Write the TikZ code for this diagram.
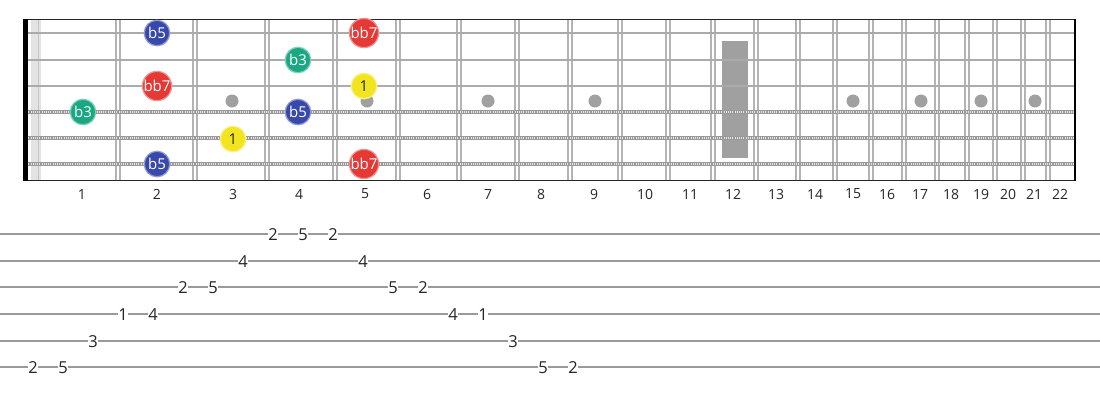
\documentclass[tikz,border=0pt]{standalone}
\usepackage{fontspec}
\setmainfont{Open Sans}
\definecolor{fretgray}{HTML}{B4B4B4}
\definecolor{strgray}{HTML}{ABABAB}
\definecolor{dotgray}{HTML}{A0A0A0}
\definecolor{tabgray}{HTML}{9A9A9A}
\definecolor{nblue}{HTML}{3949AB}
\definecolor{nred}{HTML}{E53935}
\definecolor{ngreen}{HTML}{1AA883}
\definecolor{nyellow}{HTML}{F2E520}
\begin{document}
\begin{tikzpicture}[x=1pt,y=-1pt,
  fretline/.style={draw=fretgray,line width=1.3pt},
  plainstring/.style={draw=strgray,line width=2pt},
  woundstring/.style={draw=gray!80,line width=3.8pt},
  woundtex/.style={draw=white!80!gray,line width=1.4pt,dash pattern=on 1pt off 1.2pt},
  inlay/.style={circle,fill=dotgray,minimum size=13pt,inner sep=0pt},
  note/.style={circle,minimum size=25.5pt,inner sep=0pt,line width=1.2pt,
     fill=#1,draw=#1!55!white,text=white,font=\fontsize{15}{15}\selectfont},
  rootnote/.style={note=nyellow,text=black!85},
  fretnum/.style={font=\fontsize{14}{14}\selectfont,text=black!85},
  tabline/.style={draw=tabgray,line width=1.4pt},
  tabnum/.style={fill=white,inner sep=0.3pt,font=\fontsize{16.5}{16.5}\selectfont,text=black!85}
]
\useasboundingbox (0,0) rectangle (1100,400);
\fill[white] (0,0) rectangle (1100,400);
% nut band
\fill[gray!22] (31,19) rectangle (41,181);
\draw[gray!45,line width=1pt] (38,19) -- (38,181);
% frets
\foreach \x in {118,195,267,335,398,459,517,570,620,668,713,756,798,835,871,904,937,967,995,1023,1048}{
  \draw[fretline] (\x-2,19) -- (\x-2,181);
  \draw[fretline] (\x+2,19) -- (\x+2,181);
}
% inlays
\foreach \x [count=\i] in {232,367,488,595,853,921,981,1035}
  \node[inlay] (dot\i) at (\x,101) {};
\fill[dotgray] (722,41) rectangle (748,158);
% strings
\foreach \y [count=\i] in {33,60,86}{
  \coordinate (sL\i) at (24,\y); \coordinate (sR\i) at (1075,\y);
  \draw[plainstring] (sL\i) -- (sR\i);
}
\foreach \y [count=\i from 4] in {112,138,164}{
  \coordinate (sL\i) at (24,\y); \coordinate (sR\i) at (1075,\y);
  \draw[woundstring] (sL\i) -- (sR\i);
  \draw[woundtex] (sL\i) -- (sR\i);
}
% borders
\draw[black!85,line width=1.3pt] (24,19.5) -- (1075,19.5);
\draw[black!85,line width=1.3pt] (24,180.5) -- (1075,180.5);
\draw[black,line width=1.6pt] (1075,19) -- (1075,181);
\fill[black] (23,19) rectangle (28,181);
% fret numbers
\foreach \x [count=\i] in {82,157,233,299,365,427,488,541,594,645,690,733,776,815,853,887,920,951,981,1008,1034,1060}
  \node[fretnum] (fn\i) at (\x,194) {\i};
% notes
\node[note=nblue] (n1) at (157,33) {b5};
\node[note=nred] (n2) at (364,33) {bb7};
\node[note=ngreen] (n3) at (298,60) {b3};
\node[note=nred] (n4) at (157,86) {bb7};
\node[rootnote] (n5) at (364,86) {1};
\node[note=ngreen] (n6) at (83,112) {b3};
\node[note=nblue] (n7) at (298,112) {b5};
\node[rootnote] (n8) at (233,139) {1};
\node[note=nblue] (n9) at (157,164) {b5};
\node[note=nred] (n10) at (364,164) {bb7};
% tab
\foreach \y [count=\i] in {234,261,287,314,341,367}{
  \coordinate (tL\i) at (0,\y); \coordinate (tR\i) at (1100,\y);
  \draw[tabline] (tL\i) -- (tR\i);
}
\node[tabnum] (t1) at (273,235) {2};
\node[tabnum] (t2) at (303,235) {5};
\node[tabnum] (t3) at (333,235) {2};
\node[tabnum] (t4) at (243,262) {4};
\node[tabnum] (t5) at (363,262) {4};
\node[tabnum] (t6) at (183,288) {2};
\node[tabnum] (t7) at (213,288) {5};
\node[tabnum] (t8) at (393,288) {5};
\node[tabnum] (t9) at (423,288) {2};
\node[tabnum] (t10) at (123,315) {1};
\node[tabnum] (t11) at (153,315) {4};
\node[tabnum] (t12) at (453,315) {4};
\node[tabnum] (t13) at (483,315) {1};
\node[tabnum] (t14) at (93,342) {3};
\node[tabnum] (t15) at (513,342) {3};
\node[tabnum] (t16) at (33,368) {2};
\node[tabnum] (t17) at (63,368) {5};
\node[tabnum] (t18) at (543,368) {5};
\node[tabnum] (t19) at (573,368) {2};
\end{tikzpicture}
\end{document}
